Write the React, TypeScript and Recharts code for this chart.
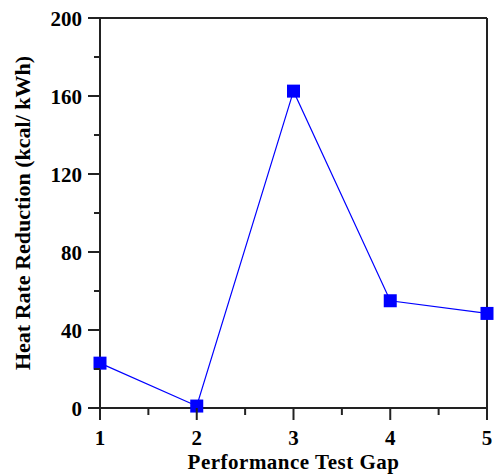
import { LineChart, Line, XAxis, YAxis, ReferenceLine } from "recharts";

const gaps = [1, 2, 3, 4, 5];
const reductions = [23, 1, 162.5, 55, 48.5];
const xMajorTicks = [1, 2, 3, 4, 5];
const xMinorTicks = [1.5, 2.5, 3.5, 4.5];
const yMajorTicks = [0, 40, 80, 120, 160, 200];
const yMinorTicks = [20, 60, 100, 140, 180];

const data = gaps.map((g, i) => ({ gap: g, value: reductions[i] }));

const FONT = "'Liberation Serif', 'Times New Roman', serif";
const AXIS = "#222";

function XTick(props: any) {
    const { x, y, payload } = props;
    const major = xMajorTicks.includes(payload.value);
    return (
        <g>
            <line x1={x} y1={y} x2={x} y2={y + (major ? 12 : 7)} stroke={AXIS} strokeWidth={2} />
            {major && (
                <text x={x} y={y + 37} textAnchor="middle" fontFamily={FONT} fontWeight="bold" fontSize={21} fill="#000">
                    {payload.value}
                </text>
            )}
        </g>
    );
}

function YTick(props: any) {
    const { x, y, payload } = props;
    const major = yMajorTicks.includes(payload.value);
    return (
        <g>
            <line x1={x} y1={y} x2={x - (major ? 12 : 6)} y2={y} stroke={AXIS} strokeWidth={2} />
            {major && (
                <text x={x - 18} y={y + 7.5} textAnchor="end" fontFamily={FONT} fontWeight="bold" fontSize={21} fill="#000">
                    {payload.value}
                </text>
            )}
        </g>
    );
}

function XTitle(props: any) {
    const vb = props.viewBox;
    if (!vb) return null;
    return (
        <text
            x={vb.x + vb.width / 2}
            y={vb.y + vb.height - 5}
            textAnchor="middle"
            fontFamily={FONT}
            fontWeight="bold"
            fontSize={21}
            letterSpacing={0.5}
            fill="#000"
        >
            Performance Test Gap
        </text>
    );
}

function Square(props: any) {
    const { cx, cy } = props;
    if (cx == null || cy == null) return null;
    return <rect x={cx - 6.5} y={cy - 6.5} width={13} height={13} fill="#0000ff" />;
}

export default function App() {
    return (
        <div style={{ position: "absolute", left: 0, top: 0, background: "#fff" }}>
            <LineChart width={494} height={474} data={data} margin={{ top: 18, right: 7, left: 0, bottom: 0 }}>
                <XAxis
                    dataKey="gap"
                    type="number"
                    domain={[1, 5]}
                    ticks={[...xMajorTicks, ...xMinorTicks].sort((a, b) => a - b)}
                    interval={0}
                    height={66}
                    tickSize={0}
                    tickMargin={0}
                    tickLine={false}
                    tick={<XTick />}
                    axisLine={{ stroke: AXIS, strokeWidth: 2 }}
                    label={{ content: (p: any) => <XTitle {...p} /> }}
                />
                <YAxis
                    type="number"
                    domain={[0, 200]}
                    ticks={[...yMajorTicks, ...yMinorTicks].sort((a, b) => a - b)}
                    interval={0}
                    width={100}
                    tickSize={0}
                    tickMargin={0}
                    tickLine={false}
                    tick={<YTick />}
                    axisLine={{ stroke: AXIS, strokeWidth: 2 }}
                    label={{
                        value: "Heat Rate Reduction (kcal/ kWh)",
                        angle: -90,
                        position: "insideLeft",
                        offset: 22,
                        style: { fontFamily: FONT, fontWeight: "bold", fontSize: 22, fill: "#000", textAnchor: "middle" },
                    }}
                />
                <ReferenceLine y={200} stroke={AXIS} strokeWidth={2} />
                <ReferenceLine x={5} stroke={AXIS} strokeWidth={2} />
                <Line
                    type="linear"
                    dataKey="value"
                    stroke="#0000ff"
                    strokeWidth={1.2}
                    dot={<Square />}
                    activeDot={false}
                    isAnimationActive={false}
                />
            </LineChart>
        </div>
    );
}
